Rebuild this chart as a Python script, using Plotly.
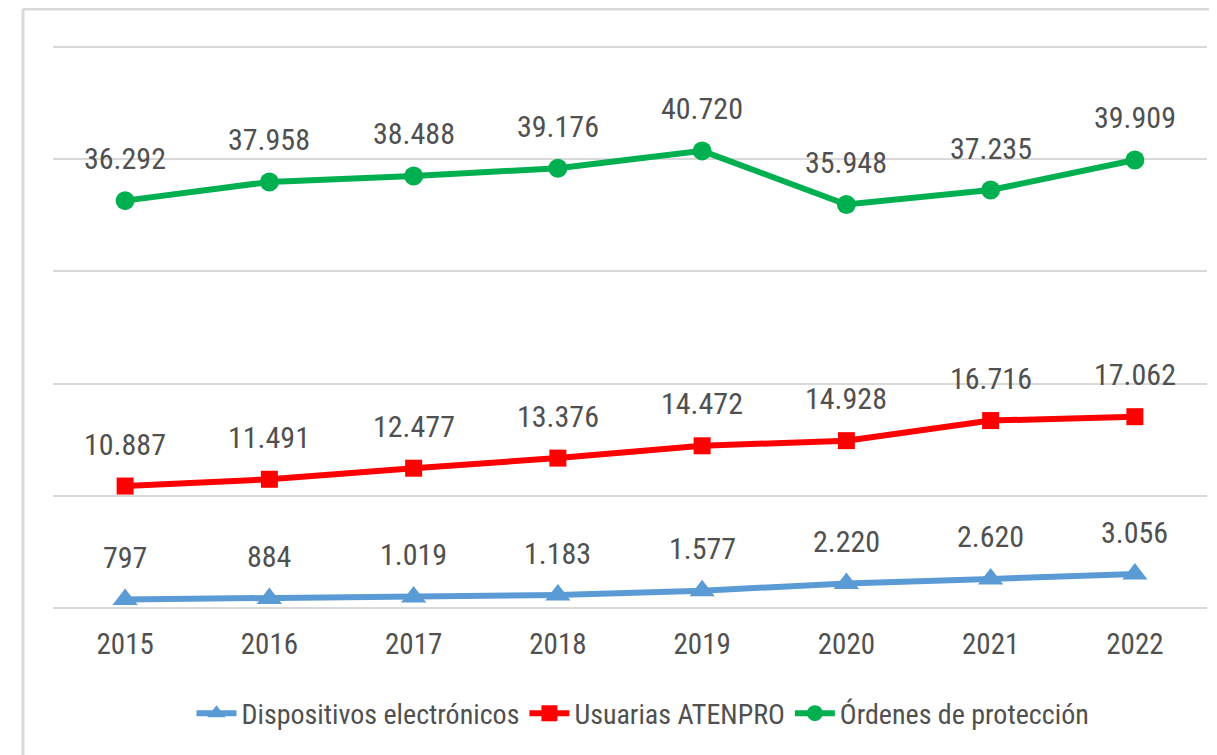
import plotly.graph_objects as go

years = ["2015", "2016", "2017", "2018", "2019", "2020", "2021", "2022"]
dispositivos = [797, 884, 1019, 1183, 1577, 2220, 2620, 3056]
atenpro = [10887, 11491, 12477, 13376, 14472, 14928, 16716, 17062]
ordenes = [36292, 37958, 38488, 39176, 40720, 35948, 37235, 39909]

series = [
    ("Dispositivos electrónicos", dispositivos, "#5B9BD5", "triangle-up", 22),
    ("Usuarias ATENPRO", atenpro, "#FF0000", "square", 17),
    ("Órdenes de protección", ordenes, "#00B050", "circle", 19),
]

FONT = "Liberation Sans Narrow, Arial Narrow, Roboto Condensed, sans-serif"
TXT = "#505050"

fig = go.Figure()
annotations = []
for name, vals, color, sym, msize in series:
    fig.add_trace(go.Scatter(
        x=years, y=vals, name=name, mode="lines+markers",
        line=dict(color=color, width=6),
        marker=dict(symbol=sym, size=msize, color=color),
    ))
    for i, v in enumerate(vals):
        annotations.append(dict(
            x=i, y=v, text=f"{v:,}".replace(",", "."), showarrow=False,
            yshift=42, font=dict(family=FONT, size=30, color=TXT),
        ))

W, H = 1217, 755
L, R = 45, 18
T, B = 33, 149
pw, ph = W - L - R, H - T - B
bx = (15 - L) / pw
by = (H - B - 8 + 7) / ph

fig.update_layout(
    width=W, height=H,
    margin=dict(l=L, r=R, t=T, b=B),
    paper_bgcolor="white", plot_bgcolor="white",
    font=dict(family=FONT, color=TXT),
    separators=",.",
    showlegend=True,
    legend=dict(orientation="h", x=(635 - L) / pw, xanchor="center", y=-0.13, yanchor="top",
                font=dict(family=FONT, size=28, color=TXT), itemwidth=40,
                traceorder="normal"),
    xaxis=dict(type="category", range=[-0.5, 7.5], autorange=False,
               showgrid=False, showline=False, ticks="", ticklabelstandoff=10,
               tickfont=dict(family=FONT, size=29, color=TXT)),
    yaxis=dict(range=[-500, 50500], autorange=False, tick0=0, dtick=10000,
               showticklabels=False,
               showgrid=True, gridcolor="#D9D9D9", gridwidth=2,
               zeroline=False, showline=False),
    annotations=annotations,
    shapes=[
        dict(type="line", xref="paper", yref="paper", x0=bx, x1=1.2, y0=by, y1=by,
             line=dict(color="#D9D9D9", width=3)),
        dict(type="line", xref="paper", yref="paper", x0=bx, x1=bx, y0=by, y1=-0.5,
             line=dict(color="#D9D9D9", width=3)),
    ],
)
fig.write_html("out.html")
